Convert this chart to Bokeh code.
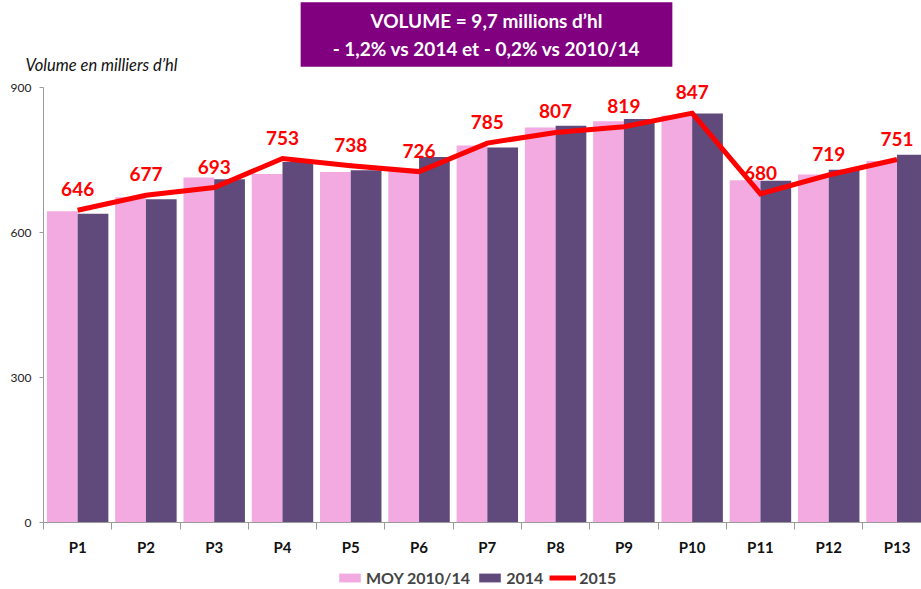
from bokeh.plotting import figure
from bokeh.models import Range1d, FixedTicker, Label, LabelSet, ColumnDataSource, Legend, LegendItem
from bokeh.core.properties import value
from bokeh.embed import file_html
from bokeh.resources import INLINE

periods = ["P1", "P2", "P3", "P4", "P5", "P6", "P7", "P8", "P9", "P10", "P11", "P12", "P13"]
moy_2010_14 = [644, 673, 714, 721, 725, 732, 780, 817, 830, 842, 708, 720, 748]
vol_2014 = [639, 669, 710, 746, 729, 756, 776, 821, 835, 846, 707, 730, 761]
vol_2015 = [646, 677, 693, 753, 738, 726, 785, 807, 819, 847, 680, 719, 751]
y_ticks = [0, 300, 600, 900]
title_text = "VOLUME = 9,7 millions d’hl\n- 1,2% vs 2014 et - 0,2% vs 2010/14"
y_label_text = "Volume en milliers d’hl"

PINK = "#F2AAE1"
DARK = "#604A7B"
RED = "#FF0000"
FONT = "Lato"

# layout (pixels)
W, H = 921, 589
AX_LEFT, AX_TOP, AX_BOTTOM = 43, 87, 522
CAT_PX = 68.28
Y_MAX = 900
PX_PER_UNIT = (AX_BOTTOM - AX_TOP) / Y_MAX
n = len(periods)
centers = [i + 0.5 for i in range(n)]

x_start = -AX_LEFT / CAT_PX
x_end = (W - AX_LEFT) / CAT_PX
y_start = -(H - AX_BOTTOM) / PX_PER_UNIT
y_end = Y_MAX + AX_TOP / PX_PER_UNIT

p = figure(width=W, height=H, output_backend="svg", toolbar_location=None,
           x_range=Range1d(x_start, x_end), y_range=Range1d(y_start, y_end),
           min_border=0)
p.outline_line_color = None
p.grid.visible = False
p.background_fill_color = "white"

src = ColumnDataSource(dict(x=centers, moy=moy_2010_14, v14=vol_2014, v15=vol_2015,
                            lab=[str(v) for v in vol_2015],
                            xm=[c - 0.225 for c in centers], xd=[c + 0.225 for c in centers]))

r1 = p.vbar(x="xm", top="moy", width=0.45, source=src, fill_color=PINK, line_color=None)
r2 = p.vbar(x="xd", top="v14", width=0.45, source=src, fill_color=DARK, line_color=None)
r3 = p.line(x="x", y="v15", source=src, line_color=RED, line_width=5, line_join="miter")

labels = LabelSet(x="x", y="v15", text="lab", source=src, y_offset=21,
                  text_align="center", text_baseline="middle", text_color=RED,
                  text_font=value(FONT), text_font_style="bold", text_font_size="19px")
p.add_layout(labels)

# axes
xa = p.xaxis[0]
xa.fixed_location = 0
xa.bounds = (0, n)
xa.ticker = FixedTicker(ticks=centers, minor_ticks=list(range(n + 1)))
xa.major_label_overrides = {c: lab for c, lab in zip(centers, periods)}
xa.major_tick_out = 0
xa.major_tick_in = 0
xa.minor_tick_out = 7
xa.minor_tick_in = 0
xa.minor_tick_line_color = "#9a9a9a"
xa.axis_line_color = "#9a9a9a"
xa.major_label_text_font = FONT
xa.major_label_text_font_style = "bold"
xa.major_label_text_font_size = "15px"
xa.major_label_text_color = "#111111"
xa.major_label_standoff = 8

ya = p.yaxis[0]
ya.fixed_location = 0
ya.bounds = (0, Y_MAX)
ya.ticker = FixedTicker(ticks=y_ticks)
ya.major_tick_out = 4
ya.major_tick_in = 0
ya.minor_tick_line_color = None
ya.axis_line_color = "#9a9a9a"
ya.major_tick_line_color = "#9a9a9a"
ya.major_label_text_font = FONT
ya.major_label_text_font_size = "12px"
ya.major_label_text_color = "#222222"
ya.major_label_standoff = 8

legend = Legend(items=[LegendItem(label="MOY 2010/14", renderers=[r1]),
                       LegendItem(label="2014", renderers=[r2]),
                       LegendItem(label="2015", renderers=[r3])],
                orientation="horizontal", location=(334, 0),
                border_line_alpha=0, background_fill_alpha=0,
                label_text_font=FONT, label_text_font_style="bold", label_text_font_size="16px",
                glyph_width=27, glyph_height=11, spacing=6, label_standoff=3,
                padding=2, margin=0)
p.add_layout(legend)

p.add_layout(Label(x=25, y=H - 64, x_units="screen", y_units="screen", text=y_label_text,
                   text_align="left", text_baseline="middle", text_font=FONT,
                   text_font_style="italic", text_font_size="16.5px", text_color="#111111"))

p.add_layout(Label(x=486, y=H - 34, x_units="screen", y_units="screen", text=title_text,
                   text_align="center", text_baseline="middle", text_color="white",
                   text_font=FONT, text_font_style="bold", text_font_size="19px",
                   text_line_height=1.2,
                   background_fill_color="#800080",
                   padding=dict(left=32, right=32, top=7, bottom=7)))

open("out.html", "w").write(file_html(p, INLINE))
